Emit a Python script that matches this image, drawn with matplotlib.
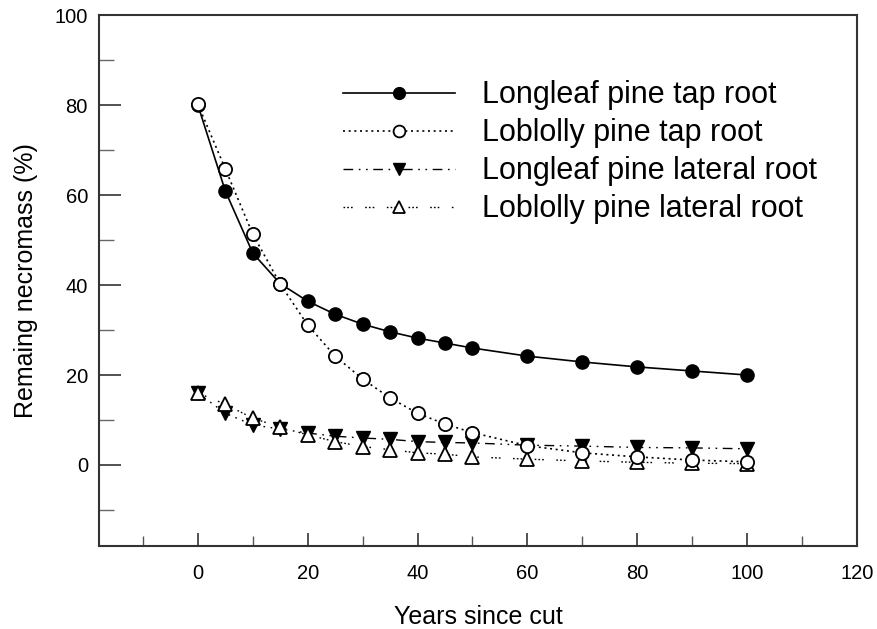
import matplotlib.pyplot as plt
from matplotlib.ticker import MultipleLocator

plt.rcParams['font.family'] = ['Liberation Sans', 'DejaVu Sans']

# data
years = [0, 5, 10, 15, 20, 25, 30, 35, 40, 45, 50, 60, 70, 80, 90, 100]
longleaf_tap = [80.0, 60.9, 47.1, 40.3, 36.4, 33.5, 31.3, 29.6, 28.2, 27.1, 26.0, 24.2, 22.9, 21.8, 20.9, 20.0]
loblolly_tap = [80.2, 65.8, 51.3, 40.2, 31.1, 24.2, 19.1, 14.9, 11.5, 9.1, 7.2, 4.3, 2.7, 1.8, 1.1, 0.7]
longleaf_lat = [16.0, 11.5, 8.9, 8.0, 7.1, 6.4, 6.0, 5.7, 5.2, 5.0, 4.9, 4.4, 4.2, 3.9, 3.8, 3.6]
loblolly_lat = [16.0, 13.5, 10.4, 8.4, 6.7, 5.2, 4.1, 3.4, 2.7, 2.4, 1.8, 1.3, 0.9, 0.6, 0.4, 0.3]

labels = ['Longleaf pine tap root', 'Loblolly pine tap root',
          'Longleaf pine lateral root', 'Loblolly pine lateral root']

fig = plt.figure(figsize=(8.77, 6.29), dpi=100)
ax = fig.add_axes([0.1129, 0.132, 0.8642, 0.844])

ms = 9.5
# laterals first so the tap roots sit on top
l3, = ax.plot(years, longleaf_lat, color='black', lw=1, dashes=(7, 4, 1.2, 4, 1.2, 4),
              marker='v', ms=ms, mfc='black', mec='black', label=labels[2])
l4, = ax.plot(years, loblolly_lat, color='black', lw=1, dashes=(1.2, 1.5, 1.2, 1.5, 1.2, 9),
              marker='^', ms=ms, mfc='white', mec='black', mew=1.3, label=labels[3])
l1, = ax.plot(years, longleaf_tap, color='black', lw=1.2, ls='-',
              marker='o', ms=ms, mfc='black', mec='black', label=labels[0])
l2, = ax.plot(years, loblolly_tap, color='black', lw=1.2, dashes=(1.2, 2.2),
              marker='o', ms=ms, mfc='white', mec='black', mew=1.3, label=labels[1])

ax.set_xlim(-18, 120)
ax.set_ylim(-18, 100)
ax.xaxis.set_minor_locator(MultipleLocator(10))
ax.yaxis.set_minor_locator(MultipleLocator(10))
ax.set_xticks([0, 20, 40, 60, 80, 100, 120])
ax.set_yticks([0, 20, 40, 60, 80, 100])

ax.tick_params(axis='both', which='both', direction='in', labelsize=14.5, color='#333333')
ax.tick_params(axis='x', which='major', length=9.5, width=1.2, pad=13)
ax.tick_params(axis='x', which='minor', length=7, width=1, color='#555555')
ax.tick_params(axis='y', which='major', length=16, width=1.2, pad=8)
ax.tick_params(axis='y', which='minor', length=11, width=1, color='#666666')
ax.tick_params(top=False, right=False)

for s in ax.spines.values():
    s.set_linewidth(1.5)
    s.set_color('#333333')

ax.set_xlabel('Years since cut', fontsize=18, labelpad=16)
ax.set_ylabel('Remaing necromass (%)', fontsize=18, labelpad=12)

leg = ax.legend(handles=[l1, l2, l3, l4], loc='upper left', bbox_to_anchor=(0.306, 0.90),
                frameon=False, fontsize=22, handlelength=3.66, handletextpad=0.88,
                labelspacing=0.26, borderaxespad=0)
for h in leg.legend_handles:
    h.set_markersize(8.5)

plt.savefig('out.png', dpi=100)
plt.close()
